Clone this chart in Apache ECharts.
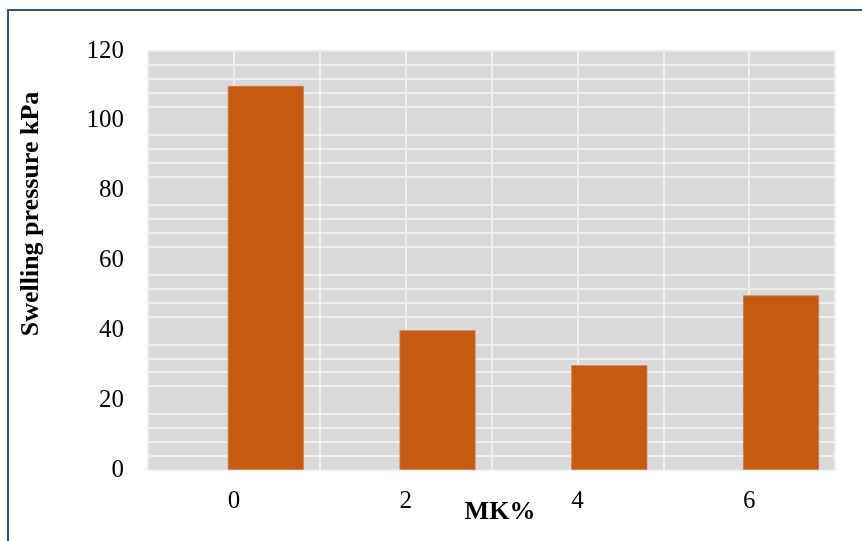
<!DOCTYPE html>
<html>
<head>
<meta charset="utf-8">
<script src="https://cdn.jsdelivr.net/npm/echarts@6/dist/echarts.min.js"></script>
<style>
  html, body { margin: 0; padding: 0; background: #ffffff; }
  #chart { width: 862px; height: 541px; }
</style>
</head>
<body>
<div id="chart"></div>
<script>
// Metakaolin content (%) and measured swelling pressure (kPa)
const mkPercent = ['0', '2', '4', '6'];
const swellingPressure = [110, 40, 30, 50];
// empty companion series so the bars sit right of each category centre
const spacer = ['-', '-', '-', '-'];

const FONT = '"Liberation Serif", "Times New Roman", serif';
const GRID_LINE = '#eeeeee';

const chart = echarts.init(document.getElementById('chart'), null, { renderer: 'canvas' });

chart.setOption({
  backgroundColor: '#ffffff',
  animation: false,
  grid: {
    left: 148, right: 27, top: 51, bottom: 71,
    show: true,
    backgroundColor: '#d9d9d9',
    borderColor: '#ebebeb',
    borderWidth: 1.5
  },
  xAxis: [
    {
      type: 'category',
      data: mkPercent,
      boundaryGap: true,
      axisLine: { show: false },
      axisTick: { show: false },
      axisLabel: { color: '#000', fontFamily: FONT, fontSize: 25, margin: 19 },
      splitLine: { show: true, lineStyle: { color: GRID_LINE, width: 2 } }
    },
    {
      // finer vertical guides at every category centre
      type: 'value',
      min: 0, max: 8, interval: 1,
      position: 'bottom',
      axisLine: { show: false },
      axisTick: { show: false },
      axisLabel: { show: false },
      splitLine: { show: true, lineStyle: { color: GRID_LINE, width: 2 } }
    }
  ],
  yAxis: {
    type: 'value',
    min: 0, max: 120, interval: 20,
    axisLine: { show: false },
    axisTick: { show: false },
    axisLabel: { color: '#000', fontFamily: FONT, fontSize: 25, margin: 24 },
    splitLine: { show: false },
    minorTick: { show: false, splitNumber: 5 },
    minorSplitLine: { show: true, lineStyle: { color: GRID_LINE, width: 2 } }
  },
  series: [
    {
      name: 'spacer',
      type: 'bar',
      xAxisIndex: 0,
      data: spacer,
      barWidth: 76,
      barGap: '-16%',
      silent: true
    },
    {
      name: 'Swelling pressure',
      type: 'bar',
      xAxisIndex: 0,
      data: swellingPressure,
      barWidth: 76,
      barGap: '-16%',
      itemStyle: { color: '#c55a11', borderColor: '#d0784a', borderWidth: 0.8 }
    }
  ],
  graphic: [
    {
      type: 'rect',
      shape: { x: 8, y: 10, width: 900, height: 600 },
      style: { fill: 'none', stroke: '#2f5597', lineWidth: 2 },
      silent: true
    },
    {
      type: 'text',
      x: 31, y: 214,
      rotation: Math.PI / 2,
      style: {
        text: 'Swelling pressure kPa',
        fontFamily: FONT, fontSize: 26, fontWeight: 'bold',
        fill: '#000', align: 'center', verticalAlign: 'middle'
      }
    },
    {
      type: 'text',
      x: 500, y: 512,
      style: {
        text: 'MK%',
        fontFamily: FONT, fontSize: 26, fontWeight: 'bold',
        fill: '#000', align: 'center', verticalAlign: 'middle'
      }
    }
  ]
});
</script>
</body>
</html>
